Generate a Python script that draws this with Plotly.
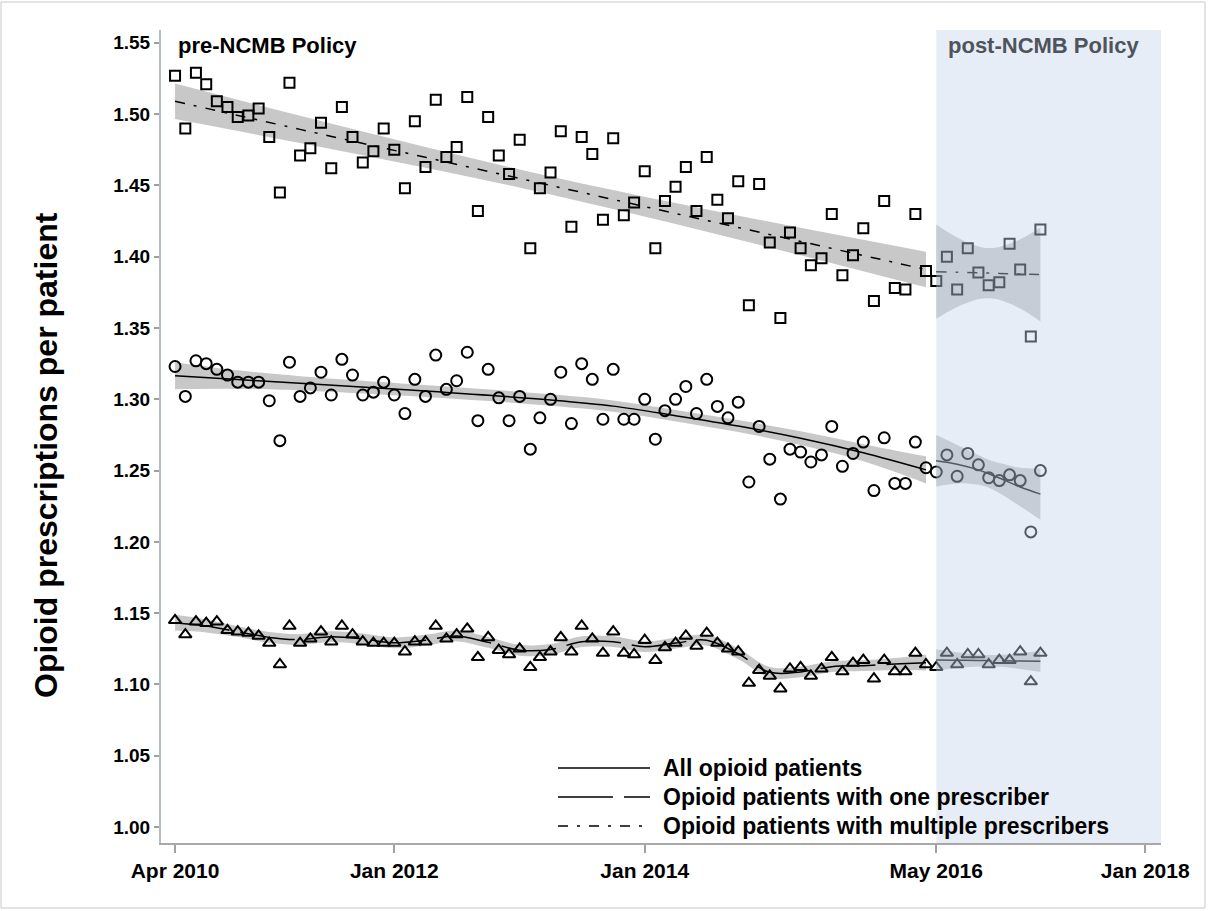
import plotly.graph_objects as go
import pandas as pd

# ---------------- data ----------------
pre_months = pd.date_range("2010-04-01", periods=73, freq="MS")
post_months = pd.date_range("2016-05-01", periods=11, freq="MS")

multi_pre = [1.527, 1.490, 1.529, 1.521, 1.509, 1.505, 1.498, 1.499, 1.504, 1.484,
             1.445, 1.522, 1.471, 1.476, 1.494, 1.462, 1.505, 1.484, 1.466, 1.474,
             1.490, 1.475, 1.448, 1.495, 1.463, 1.510, 1.470, 1.477, 1.512, 1.432,
             1.498, 1.471, 1.458, 1.482, 1.406, 1.448, 1.459, 1.488, 1.421, 1.484,
             1.472, 1.426, 1.483, 1.429, 1.438, 1.460, 1.406, 1.439, 1.449, 1.463,
             1.432, 1.470, 1.440, 1.427, 1.453, 1.366, 1.451, 1.410, 1.357, 1.417,
             1.406, 1.394, 1.399, 1.430, 1.387, 1.401, 1.420, 1.369, 1.439, 1.378,
             1.377, 1.430, 1.390]
multi_post = [1.383, 1.400, 1.377, 1.406, 1.389, 1.380, 1.382, 1.409, 1.391, 1.344, 1.419]

all_pre = [1.323, 1.302, 1.327, 1.325, 1.321, 1.317, 1.312, 1.312, 1.312, 1.299,
           1.271, 1.326, 1.302, 1.308, 1.319, 1.303, 1.328, 1.317, 1.303, 1.305,
           1.312, 1.303, 1.290, 1.314, 1.302, 1.331, 1.307, 1.313, 1.333, 1.285,
           1.321, 1.301, 1.285, 1.302, 1.265, 1.287, 1.300, 1.319, 1.283, 1.325,
           1.314, 1.286, 1.321, 1.286, 1.286, 1.300, 1.272, 1.292, 1.300, 1.309,
           1.290, 1.314, 1.295, 1.287, 1.298, 1.242, 1.281, 1.258, 1.230, 1.265,
           1.263, 1.256, 1.261, 1.281, 1.253, 1.262, 1.270, 1.236, 1.273, 1.241,
           1.241, 1.270, 1.252]
all_post = [1.249, 1.261, 1.246, 1.262, 1.254, 1.245, 1.243, 1.247, 1.243, 1.207, 1.250]

one_pre = [1.145, 1.135, 1.144, 1.143, 1.144, 1.138, 1.137, 1.136, 1.134, 1.129,
           1.114, 1.141, 1.129, 1.132, 1.137, 1.130, 1.141, 1.135, 1.130, 1.129,
           1.129, 1.129, 1.123, 1.130, 1.130, 1.141, 1.132, 1.135, 1.139, 1.119,
           1.133, 1.124, 1.121, 1.125, 1.112, 1.119, 1.123, 1.133, 1.123, 1.141,
           1.132, 1.122, 1.137, 1.122, 1.121, 1.131, 1.117, 1.126, 1.129, 1.134,
           1.127, 1.136, 1.129, 1.125, 1.123, 1.101, 1.110, 1.106, 1.097, 1.111,
           1.112, 1.106, 1.111, 1.119, 1.109, 1.115, 1.117, 1.104, 1.117, 1.109,
           1.109, 1.122, 1.114]
one_post = [1.112, 1.122, 1.114, 1.121, 1.121, 1.114, 1.117, 1.117, 1.123, 1.102, 1.122]

# fitted lines and confidence limits read at knot months
multi_pre_knots = ["2010-04-01", "2011-04-01", "2012-04-01", "2013-04-01",
                   "2014-04-01", "2015-04-01", "2016-04-01"]
multi_pre_fit = [1.509, 1.4893, 1.4697, 1.4500, 1.4303, 1.4107, 1.391]
multi_pre_lo = [1.4965, 1.4797, 1.4624, 1.4437, 1.4230, 1.4011, 1.3785]
multi_pre_hi = [1.5215, 1.4989, 1.4770, 1.4563, 1.4376, 1.4203, 1.4035]

post_knots = ["2016-05-01", "2016-07-01", "2016-09-01", "2016-10-01",
              "2016-11-01", "2017-01-01", "2017-03-01"]
multi_post_fit = [1.3895, 1.3891, 1.3887, 1.3885, 1.3883, 1.3879, 1.3875]
multi_post_lo = [1.3565, 1.3648, 1.3702, 1.3709, 1.3698, 1.3636, 1.3545]
multi_post_hi = [1.4225, 1.4134, 1.4072, 1.4061, 1.4068, 1.4122, 1.4205]

all_pre_knots = ["2010-04-01", "2010-10-01", "2011-04-01", "2012-04-01", "2013-04-01",
                 "2013-10-01", "2014-04-01", "2014-10-01", "2015-04-01", "2015-10-01",
                 "2016-04-01"]
all_pre_fit = [1.3165, 1.3138, 1.3112, 1.3058, 1.2995, 1.2952, 1.2885, 1.2812, 1.2727, 1.2625, 1.2505]
all_pre_lo = [1.3070, 1.3073, 1.3062, 1.3016, 1.2955, 1.2912, 1.2845, 1.2770, 1.2679, 1.2565, 1.2410]
all_pre_hi = [1.3260, 1.3203, 1.3162, 1.3100, 1.3035, 1.2992, 1.2925, 1.2854, 1.2775, 1.2685, 1.2600]

all_post_fit = [1.2569, 1.2545, 1.2505, 1.2478, 1.2448, 1.2385, 1.2335]
all_post_lo = [1.2389, 1.2410, 1.2400, 1.2380, 1.2343, 1.2250, 1.2155]
all_post_hi = [1.2749, 1.2680, 1.2610, 1.2576, 1.2553, 1.2520, 1.2515]

one_pre_knots = ["2010-04-01", "2010-07-01", "2010-10-01", "2011-01-01", "2011-04-01",
                 "2011-07-01", "2011-10-01", "2012-01-01", "2012-04-01", "2012-07-01",
                 "2012-10-01", "2013-01-01", "2013-04-01", "2013-07-01", "2013-10-01",
                 "2014-01-01", "2014-04-01", "2014-07-01", "2014-10-01", "2015-01-01",
                 "2015-04-01", "2015-07-01", "2015-10-01", "2016-01-01", "2016-04-01"]
one_pre_fit = [1.1433, 1.1410, 1.1370, 1.1330, 1.1315, 1.1335, 1.1320, 1.1292, 1.1310,
               1.1340, 1.1295, 1.1240, 1.1245, 1.1300, 1.1300, 1.1265, 1.1290, 1.1310,
               1.1215, 1.1085, 1.1088, 1.1125, 1.1132, 1.1143, 1.1153]
one_pre_lo = [1.1378, 1.1365, 1.1332, 1.1292, 1.1277, 1.1297, 1.1282, 1.1254, 1.1272,
              1.1302, 1.1257, 1.1202, 1.1207, 1.1262, 1.1262, 1.1227, 1.1252, 1.1272,
              1.1177, 1.1047, 1.1050, 1.1087, 1.1094, 1.1101, 1.1098]
one_pre_hi = [1.1488, 1.1455, 1.1408, 1.1368, 1.1353, 1.1373, 1.1358, 1.1330, 1.1348,
              1.1378, 1.1333, 1.1278, 1.1283, 1.1338, 1.1338, 1.1303, 1.1328, 1.1348,
              1.1253, 1.1123, 1.1126, 1.1163, 1.1170, 1.1185, 1.1208]

one_post_fit = [1.1172, 1.1170, 1.1168, 1.1167, 1.1166, 1.1164, 1.1162]
one_post_lo = [1.1097, 1.1115, 1.1126, 1.1127, 1.1124, 1.1109, 1.1087]
one_post_hi = [1.1247, 1.1225, 1.1210, 1.1207, 1.1208, 1.1219, 1.1237]

x_tick_vals = ["2010-04-01", "2012-01-01", "2014-01-01", "2016-05-01", "2018-01-01"]
x_tick_text = ["Apr 2010", "Jan 2012", "Jan 2014", "May 2016", "Jan 2018"]
y_tick_vals = [1.00, 1.05, 1.10, 1.15, 1.20, 1.25, 1.30, 1.35, 1.40, 1.45, 1.50, 1.55]

legend_labels = ["All opioid patients", "Opioid patients with one prescriber",
                 "Opioid patients with multiple prescribers"]

# ---------------- styles ----------------
BAND = "rgb(200,200,200)"
FONT = "Liberation Sans, Arial, sans-serif"
styles = {"all": "solid", "one": "55px,11px", "multi": "10px,9px,3px,9px"}

fig = go.Figure()


def add_band(x, lo, hi):
    fig.add_trace(go.Scatter(x=x, y=lo, mode="lines", line=dict(width=0, shape="spline"),
                             hoverinfo="skip", showlegend=False))
    fig.add_trace(go.Scatter(x=x, y=hi, mode="lines", line=dict(width=0, shape="spline"),
                             fill="tonexty", fillcolor=BAND, hoverinfo="skip", showlegend=False))


for x, lo, hi in [(multi_pre_knots, multi_pre_lo, multi_pre_hi),
                  (post_knots, multi_post_lo, multi_post_hi),
                  (all_pre_knots, all_pre_lo, all_pre_hi),
                  (post_knots, all_post_lo, all_post_hi),
                  (one_pre_knots, one_pre_lo, one_pre_hi),
                  (post_knots, one_post_lo, one_post_hi)]:
    add_band(x, lo, hi)

for x, y, key in [(multi_pre_knots, multi_pre_fit, "multi"), (post_knots, multi_post_fit, "multi"),
                  (all_pre_knots, all_pre_fit, "all"), (post_knots, all_post_fit, "all"),
                  (one_pre_knots, one_pre_fit, "one"), (post_knots, one_post_fit, "one")]:
    fig.add_trace(go.Scatter(x=x, y=y, mode="lines",
                             line=dict(color="black", width=1.5, dash=styles[key], shape="spline"),
                             showlegend=False, hoverinfo="skip"))

for x, y, sym, size in [(pre_months, multi_pre, "square-open", 10),
                        (post_months, multi_post, "square-open", 10),
                        (pre_months, all_pre, "circle-open", 11),
                        (post_months, all_post, "circle-open", 11),
                        (pre_months, one_pre, "triangle-up-open", 11),
                        (post_months, one_post, "triangle-up-open", 11)]:
    fig.add_trace(go.Scatter(x=x, y=y, mode="markers",
                             marker=dict(symbol=sym, size=size, color="black",
                                         line=dict(width=2, color="black")),
                             showlegend=False))

# ---------------- layout ----------------
L, R, T, B = 161, 47, 30, 68
W, H = 1208, 911
pw, ph = W - L - R, H - T - B


def px(xp):
    return (xp - L) / pw


def py(yp):
    return (H - B - yp) / ph


shapes = [
    # post-policy shading (drawn above data, translucent)
    dict(type="rect", xref="x", yref="paper", x0="2016-05-01", x1="2018-02-16", y0=0, y1=1,
         fillcolor="rgba(198,213,235,0.42)", line=dict(width=0), layer="above"),
    # outer frame
    dict(type="rect", xref="paper", yref="paper", x0=px(1), x1=px(W - 3), y0=py(H - 3), y1=py(2),
         line=dict(color="#C8C8C8", width=1), fillcolor="rgba(0,0,0,0)", layer="above"),
]

annotations = [
    dict(text="pre-NCMB Policy", x=px(267), y=py(46), xref="paper", yref="paper",
         xanchor="center", yanchor="middle",
         showarrow=False, font=dict(family=FONT, size=22, color="black", weight="bold")),
    dict(text="post-NCMB Policy", x=px(1043), y=py(46), xref="paper", yref="paper",
         xanchor="center", yanchor="middle",
         showarrow=False, font=dict(family=FONT, size=22, color="#4e545c", weight="bold")),
    dict(text="Opioid prescriptions per patient", x=px(46), y=py(455), xref="paper", yref="paper",
         xanchor="center", yanchor="middle", textangle=-90, showarrow=False,
         font=dict(family=FONT, size=32, color="black", weight="bold")),
]

legend_rows = [768, 797, 826]
for lab, row, key in zip(legend_labels, legend_rows, ["all", "one", "multi"]):
    shapes.append(dict(type="line", xref="paper", yref="paper", x0=px(558), x1=px(650),
                       y0=py(row), y1=py(row), line=dict(color="black", width=1.5, dash=styles[key])))
    annotations.append(dict(text=lab, x=px(661), y=py(row), xref="paper", yref="paper",
                            xanchor="left", yanchor="middle", showarrow=False,
                            font=dict(family=FONT, size=23, color="black", weight="bold")))

fig.update_layout(
    width=W, height=H,
    margin=dict(l=L, r=R, t=T, b=B, autoexpand=False),
    plot_bgcolor="white", paper_bgcolor="white",
    showlegend=False,
    shapes=shapes, annotations=annotations,
    xaxis=dict(type="date", range=["2010-02-19", "2018-02-16"],
               tickvals=x_tick_vals, ticktext=x_tick_text,
               ticks="outside", ticklen=8, tickwidth=1.5, tickcolor="#A0A0A0",
               showline=True, linecolor="#A8A8A8", linewidth=2, showgrid=False, zeroline=False,
               tickfont=dict(family=FONT, size=21, color="black", weight="bold")),
    yaxis=dict(range=[0.9888, 1.559], tickvals=y_tick_vals,
               ticktext=[f"{v:.2f}" for v in y_tick_vals],
               ticks="outside", ticklen=5, tickwidth=1.5, tickcolor="#A0A0A0",
               showline=True, linecolor="#B4BCC4", linewidth=2, showgrid=False, zeroline=False,
               tickfont=dict(family=FONT, size=19, color="black", weight="bold")),
)

fig.write_html("out.html", config={"displayModeBar": False},
               post_script="document.body.style.margin='0';")
